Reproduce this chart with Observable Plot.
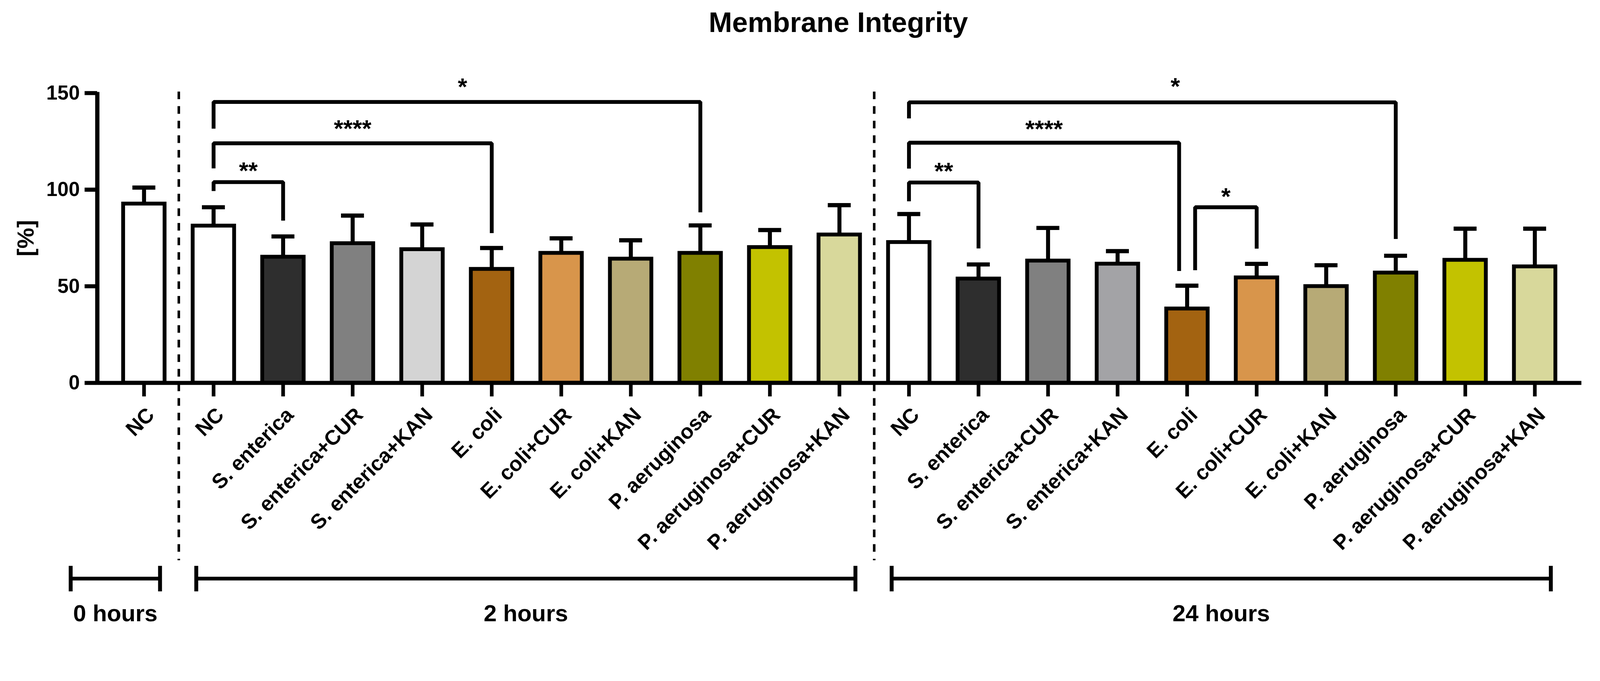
<!DOCTYPE html>
<html>
<head>
<meta charset="utf-8">
<script src="https://cdn.jsdelivr.net/npm/d3@7"></script>
<script src="https://cdn.jsdelivr.net/npm/@observablehq/plot@0.6"></script>
<style>
  html, body { margin: 0; padding: 0; background: #fff; overflow: hidden; }
  #wrap { position: absolute; top: 0; left: 0; width: 4382px; height: 1744px; transform-origin: 0 0; background: #fff; }
  #title {
    position: absolute; top: 0; left: 2296px; transform: translateX(-50%);
    height: 122px; line-height: 122px; white-space: nowrap;
    font-family: "Liberation Sans", Arial, sans-serif; font-weight: bold; font-size: 77px; color: #000;
  }
  #chart { position: absolute; top: 122px; left: 0; width: 4382px; }
  #chart svg { display: block; }
</style>
</head>
<body>
<div id="wrap">
  <div id="title">Membrane Integrity</div>
  <div id="chart"></div>
</div>
<script>
// ---------------- data ----------------
const timepoints = ["0 hours", "2 hours", "24 hours"];
const categories = [
  "NC",
  "NC", "S. enterica", "S. enterica+CUR", "S. enterica+KAN", "E. coli", "E. coli+CUR", "E. coli+KAN",
  "P. aeruginosa", "P. aeruginosa+CUR", "P. aeruginosa+KAN",
  "NC", "S. enterica", "S. enterica+CUR", "S. enterica+KAN", "E. coli", "E. coli+CUR", "E. coli+KAN",
  "P. aeruginosa", "P. aeruginosa+CUR", "P. aeruginosa+KAN"
];
const timepointOf = [0, 1,1,1,1,1,1,1,1,1,1, 2,2,2,2,2,2,2,2,2,2];
const means = [
  92.7,
  81.3, 65.2, 72.2, 69.1, 58.9, 67.2, 64.2, 67.2, 70.2, 76.7,
  72.8, 53.9, 63.2, 61.6, 38.4, 54.5, 50.0, 57.0, 63.6, 60.2
];
const errors = [
  8.4,
  9.6, 10.6, 14.4, 12.9, 10.9, 7.6, 9.6, 14.3, 8.9, 15.3,
  14.6, 7.4, 17.0, 6.6, 11.9, 7.1, 10.9, 8.8, 16.2, 19.6
];
const fills = [
  "#ffffff",
  "#ffffff", "#2e2e2e", "#808080", "#d4d4d4", "#a36311", "#d8954b", "#b7aa76", "#808000", "#c3c200", "#d8d89b",
  "#ffffff", "#2e2e2e", "#808080", "#a3a3a6", "#a36311", "#d8954b", "#b7aa76", "#808000", "#c3c200", "#d8d89b"
];
const yTicks = [0, 50, 100, 150];

// significance comparisons (indices into categories)
const comparisons = [
  {from: 1, to: 2, label: "**"},
  {from: 1, to: 5, label: "****"},
  {from: 1, to: 8, label: "*"},
  {from: 11, to: 12, label: "**"},
  {from: 11, to: 15, label: "****"},
  {from: 15, to: 16, label: "*"},
  {from: 11, to: 18, label: "*"}
];
// annotation layout for the comparison brackets (y in % units, shifts in category units)
const bracketLayout = [
  {level: 103.9, leftEnd: 99.3,  rightEnd: 84.0, labelY: 111.4, s1: 0,     s2: 0,      ls: 0},
  {level: 124.0, leftEnd: 111.0, rightEnd: 77.5, labelY: 133.4, s1: 0,     s2: 0,      ls: 0},
  {level: 145.4, leftEnd: 131.6, rightEnd: 88.3, labelY: 155.0, s1: 0,     s2: 0,      ls: 0.08},
  {level: 103.7, leftEnd: 94.0,  rightEnd: 69.6, labelY: 111.3, s1: 0,     s2: 0,      ls: 0},
  {level: 124.3, leftEnd: 110.9, rightEnd: 57.9, labelY: 133.1, s1: 0,     s2: -0.115, ls: 0},
  {level: 90.9,  leftEnd: 58.3,  rightEnd: 69.5, labelY: 98.1,  s1: 0.115, s2: 0,      ls: 0},
  {level: 145.2, leftEnd: 136.9, rightEnd: 74.5, labelY: 155.2, s1: 0,     s2: 0,      ls: 0.33}
];

// ---------------- build tables ----------------
const rows = categories.map((c, i) => ({
  i, category: c, mean: means[i], err: errors[i], fill: fills[i], tp: timepointOf[i]
}));

const XMIN = -0.672, XMAX = 20.672;
const HALF_BAR = 0.298, HALF_CAP = 0.165;

const groups = timepoints.map((t, g) => {
  const idx = rows.filter(r => r.tp === g).map(r => r.i);
  const first = d3.min(idx), last = d3.max(idx);
  const x1 = g === 0 ? first - 1.055 : first - 0.249;
  const x2 = last + 0.23;
  return {label: t, x1, x2, cx: (x1 + x2) / 2};
});
const groupEnds = groups.flatMap(g => [g.x1, g.x2]);
const separators = timepoints.slice(1).map((_, g) => {
  const lastPrev = d3.max(rows.filter(r => r.tp === g), r => r.i);
  return lastPrev + 0.5;
});

const bracketPts = comparisons.flatMap((c, k) => {
  const L = bracketLayout[k];
  const x1 = c.from + L.s1, x2 = c.to + L.s2;
  return [
    {id: k, x: x1, y: L.leftEnd},
    {id: k, x: x1, y: L.level},
    {id: k, x: x2, y: L.level},
    {id: k, x: x2, y: L.rightEnd}
  ];
});
const bracketLabels = comparisons.map((c, k) => {
  const L = bracketLayout[k];
  return {label: c.label, x: ((c.from + L.s1) + (c.to + L.s2)) / 2 + L.ls, y: L.labelY};
});

const FONT = "'Liberation Sans', Arial, Helvetica, sans-serif";

const chart = Plot.plot({
  width: 4382,
  height: 1622,
  marginTop: 132.5,
  marginBottom: 695.5,
  marginLeft: 266,
  marginRight: 51,
  x: {type: "linear", domain: [XMIN, XMAX], axis: null},
  y: {type: "linear", domain: [0, 150], axis: null},
  color: {type: "identity"},
  style: {fontFamily: FONT, fontWeight: "bold", background: "#ffffff", color: "#000"},
  marks: [
    // dashed time separators
    Plot.ruleX(separators, {x: d => d, y1: () => 150.7, y2: () => -91.9, stroke: "#000", strokeWidth: 7, strokeDasharray: "21,19"}),
    // error bars (upper only)
    Plot.ruleX(rows, {x: "i", y1: "mean", y2: d => d.mean + d.err, stroke: "#000", strokeWidth: 11}),
    Plot.ruleY(rows, {y: d => d.mean + d.err, x1: d => d.i - HALF_CAP, x2: d => d.i + HALF_CAP, stroke: "#000", strokeWidth: 11.4}),
    // bars
    Plot.rect(rows, {x1: d => d.i - HALF_BAR, x2: d => d.i + HALF_BAR, y1: () => 0, y2: "mean", fill: "fill", stroke: "#000", strokeWidth: 10.5}),
    // x axis line and ticks
    Plot.ruleY([0], {stroke: "#000", strokeWidth: 11}),
    Plot.ruleX(rows, {x: "i", y1: () => 0, y2: () => -7.1, stroke: "#000", strokeWidth: 10}),
    Plot.text(rows, {x: "i", y: () => 0, text: "category", rotate: -45, textAnchor: "end", lineAnchor: "top",
      dx: 3, dy: 62.5, fontSize: 57, fontWeight: "bold", fill: "#000"}),
    // y axis line, ticks, labels
    Plot.ruleX([XMIN], {x: d => d, y1: () => -1, y2: () => 150.5, stroke: "#000", strokeWidth: 11.7}),
    Plot.ruleY(yTicks, {y: d => d, x1: () => XMIN - 0.18, x2: () => XMIN, stroke: "#000", strokeWidth: 11}),
    Plot.text(yTicks, {x: () => XMIN, y: d => d, text: d => String(d), dx: -48, textAnchor: "end", lineAnchor: "middle",
      fontSize: 55, fontWeight: "bold", fill: "#000"}),
    Plot.text(["[%]"], {x: () => XMIN - 1.024, y: () => 74.9, text: d => d, rotate: -90, textAnchor: "middle", lineAnchor: "middle",
      fontSize: 64, fontWeight: "bold", fill: "#000"}),
    // significance brackets
    Plot.line(bracketPts, {x: "x", y: "y", z: "id", stroke: "#000", strokeWidth: 10.5, strokeLinejoin: "miter", strokeLinecap: "butt", curve: "linear"}),
    Plot.text(bracketLabels, {x: "x", y: "y", text: "label", textAnchor: "middle", lineAnchor: "middle", dy: 10,
      fontSize: 66, fontWeight: "bold", fill: "#000"}),
    // time-point group lines
    Plot.ruleY(groups, {y: () => -101.3, x1: "x1", x2: "x2", stroke: "#000", strokeWidth: 10}),
    Plot.ruleX(groupEnds, {x: d => d, y1: () => -94.8, y2: () => -108.0, stroke: "#000", strokeWidth: 10.7}),
    Plot.text(groups, {x: "cx", y: () => -123.4, text: "label", textAnchor: "middle", lineAnchor: "bottom",
      fontSize: 64, fontWeight: "bold", fill: "#000"})
  ]
});
document.getElementById("chart").appendChild(chart);

// fit the fixed 4382x1744 layout into the actual viewport
function fit() {
  const vw = document.documentElement.clientWidth || window.innerWidth;
  const vh = document.documentElement.clientHeight || window.innerHeight;
  const s = Math.min(vw / 4382, vh / 1744);
  document.getElementById("wrap").style.transform = `scale(${s})`;
}
fit();
window.addEventListener("resize", fit);
</script>
</body>
</html>
